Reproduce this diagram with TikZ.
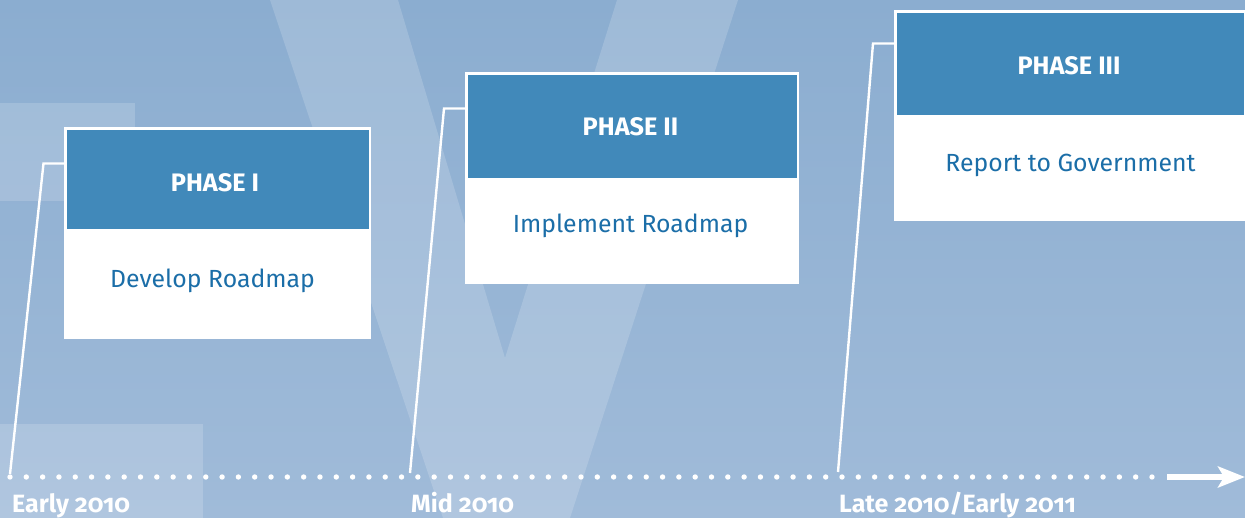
\documentclass[tikz,border=0pt]{standalone}
\usepackage{fontspec}
\setmainfont{Fira Sans}[Numbers=OldStyle]
\usetikzlibrary{arrows.meta}
\definecolor{bgtop}{RGB}{139,173,208}
\definecolor{bgbot}{RGB}{160,187,217}
\definecolor{headblue}{RGB}{65,137,186}
\definecolor{textblue}{RGB}{27,110,168}
\tikzset{
  overlay shape/.style={fill=white, fill opacity=0.17, draw=none},
  phasebox/.style={fill=white, draw=none, inner sep=0pt, anchor=north west},
  headbar/.style={fill=headblue, draw=none, inner sep=0pt, anchor=north west},
  headtext/.style={text=white, font=\fontsize{25.3}{30}\selectfont\bfseries, anchor=base, inner sep=0pt},
  bodytext/.style={text=textblue, font=\fontsize{24.8}{30}\selectfont, anchor=base, inner sep=0pt},
  datetext/.style={text=white, font=\fontsize{25}{30}\selectfont\bfseries, anchor=base west, inner sep=0pt},
  connector/.style={draw=white, line width=2.4pt, line join=miter},
  dotline/.style={draw=white, line width=5.4pt, line cap=round, dash pattern=on 0pt off 16.314pt},
  arrowline/.style={draw=white, line width=5.5pt, -{Stealth[length=27pt,width=21pt,inset=6pt]}}
}
\begin{document}
\begin{tikzpicture}[x=1pt,y=-1pt]
\useasboundingbox (0,0) rectangle (1245,518);
% background
\shade[top color=bgtop, bottom color=bgbot] (0,0) rectangle (1245,518);
% light overlays
\fill[overlay shape] (0,103) rectangle (135,201);
\fill[overlay shape] (0,424) rectangle (203,518);
\fill[overlay shape] (270,0) -- (398,0) -- (505,358) -- (617,0) -- (738,0) -- (570,518) -- (443,518) -- cycle;
% timeline
\coordinate (tstart) at (10,477);
\coordinate (tdotend) at (1153,477);
\coordinate (tarrowstart) at (1167,477);
\coordinate (tend) at (1245,477);
\draw[dotline] (tstart) -- (tdotend);
\draw[arrowline] (tarrowstart) -- (tend);
% boxes
\node[phasebox, minimum width=307pt, minimum height=212pt] (box1) at (64,127) {};
\node[headbar, minimum width=302pt, minimum height=99.5pt] (head1) at (66.5,129.5) {};
\node[phasebox, minimum width=334pt, minimum height=212pt] (box2) at (465,72) {};
\node[headbar, minimum width=329pt, minimum height=103.5pt] (head2) at (467.5,74.5) {};
\node[phasebox, minimum width=352pt, minimum height=211pt] (box3) at (894,10) {};
\node[headbar, minimum width=347pt, minimum height=102.5pt] (head3) at (896.5,12.5) {};
% texts
\node[headtext] (h1) at (215,192) {PHASE I};
\node[bodytext] (b1) at (212.5,288) {Develop Roadmap};
\node[headtext] (h2) at (630.5,136) {PHASE II};
\node[bodytext] (b2) at (630.5,233) {Implement Roadmap};
\node[headtext] (h3) at (1069,75) {PHASE III};
\node[bodytext] (b3) at (1070.5,172) {Report to Government};
% date labels
\node[datetext] (d1) at (12,512) {Early 2010};
\node[datetext] (d2) at (411,512) {Mid 2010};
\node[datetext] (d3) at (839,512) {Late 2010/Early 2011};
% connectors
\coordinate (p1) at (10,474);
\coordinate (c1) at (43.5,163.5);
\coordinate (p2) at (410,473);
\coordinate (c2) at (444,108.5);
\coordinate (p3) at (838,472);
\coordinate (c3) at (873,43.5);
\draw[connector] (p1) -- (c1) -- (c1 -| box1.west);
\draw[connector] (p2) -- (c2) -- (c2 -| box2.west);
\draw[connector] (p3) -- (c3) -- (c3 -| box3.west);
\end{tikzpicture}
\end{document}
